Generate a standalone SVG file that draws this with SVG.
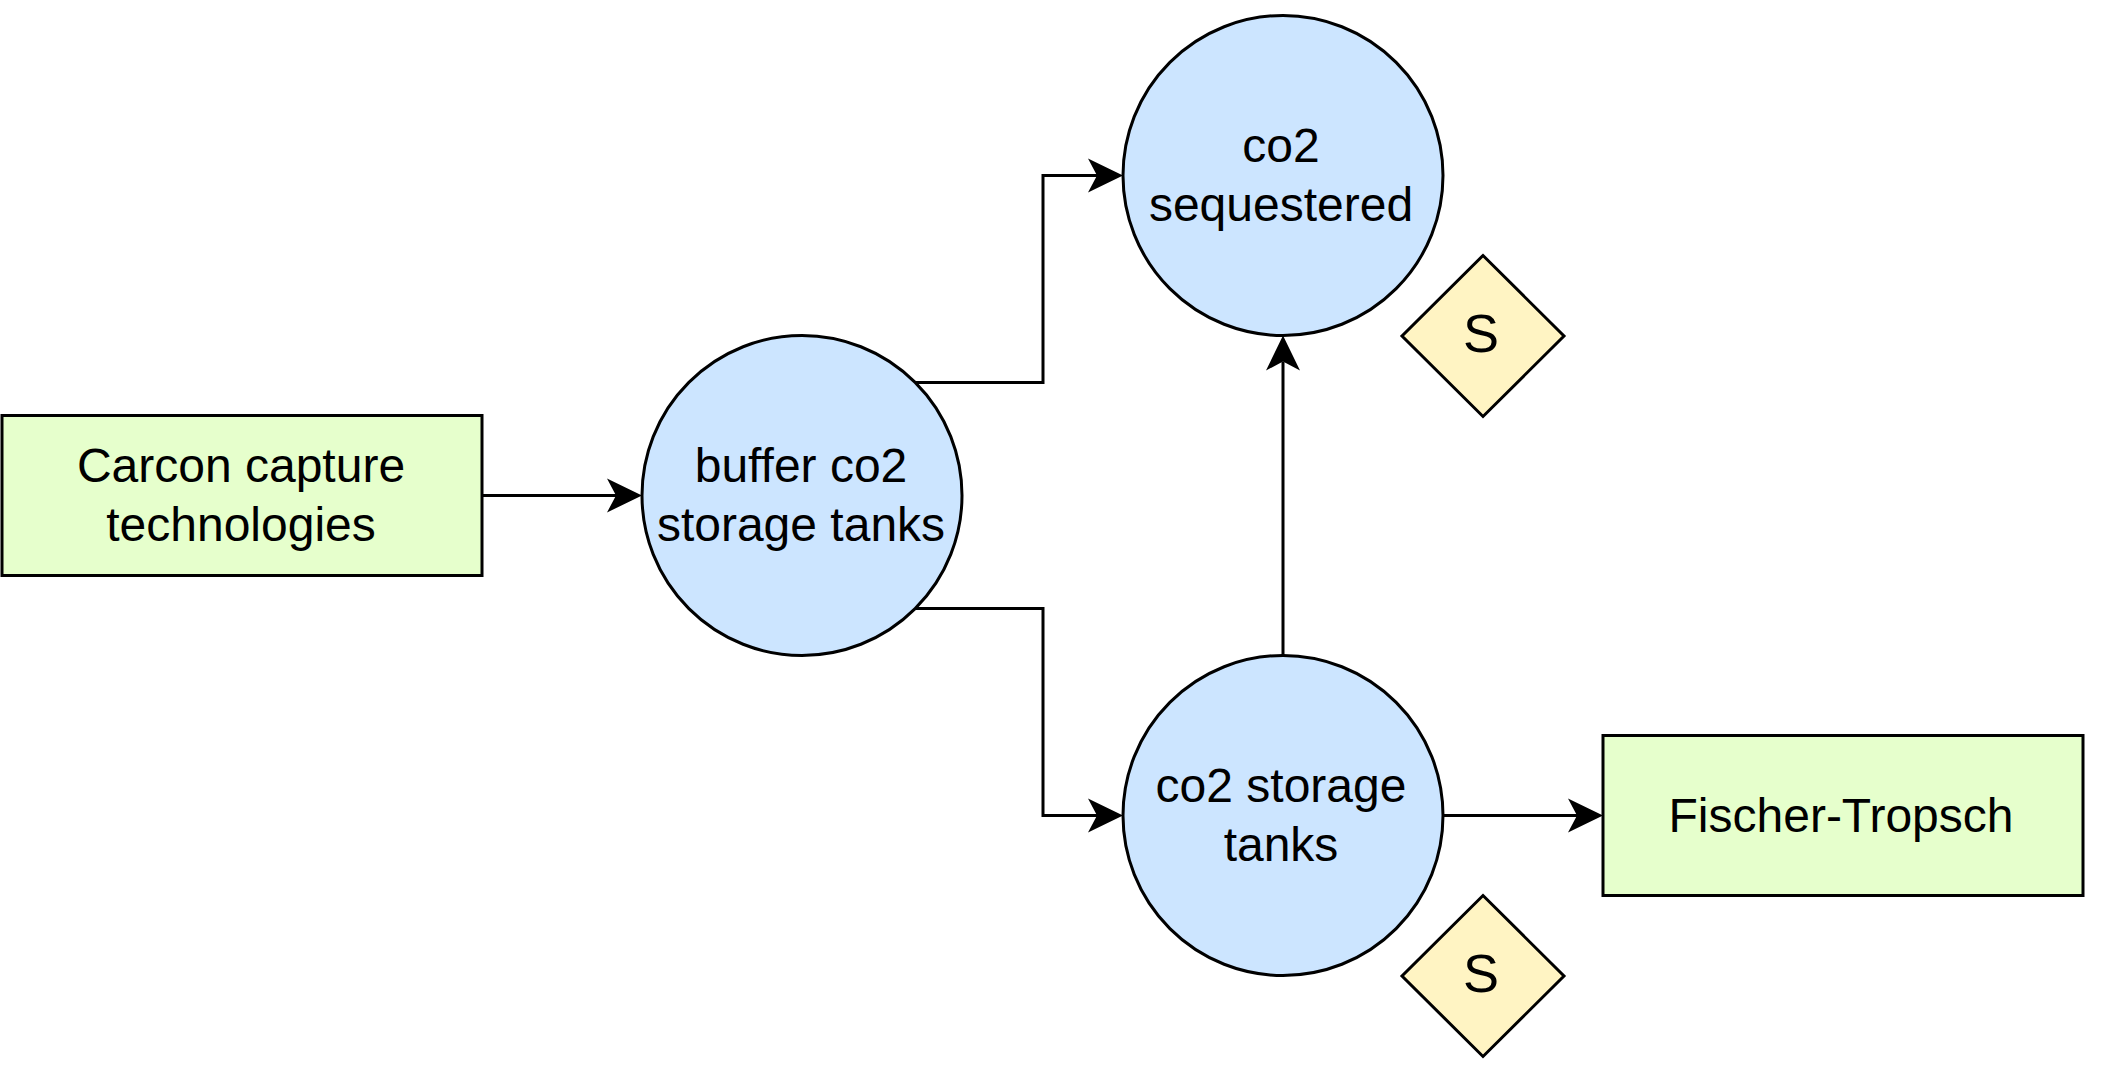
<svg xmlns="http://www.w3.org/2000/svg" width="2111" height="1083" viewBox="0 0 2111 1083">
<style>
.box{fill:#E6FFCC;stroke:#000;stroke-width:3}
.circ{fill:#CCE5FF;stroke:#000;stroke-width:3}
.dia{fill:#FFF4C3;stroke:#000;stroke-width:3}
.lbl{font-family:"Liberation Sans",Arial,sans-serif;font-size:48px;fill:#000;text-anchor:middle}
.big{font-size:54px}
.edge{fill:none;stroke:#000;stroke-width:3}
</style>
<defs>
<marker id="arr" markerUnits="userSpaceOnUse" markerWidth="40" markerHeight="40" viewBox="-10 -20 40 40" refX="0" refY="0" orient="auto" overflow="visible">
<path d="M26,0 L-9,-17 L0,0 L-9,17 Z" fill="#000" stroke="none"/>
</marker>
</defs>
<rect width="2111" height="1083" fill="#fff"/>
<g id="connectors">
<path class="edge" d="M482,495.5 L616,495.5" marker-end="url(#arr)"/>
<path class="edge" d="M915,382.4 L1043,382.4 L1043,175.5 L1097,175.5" marker-end="url(#arr)"/>
<path class="edge" d="M915,608.6 L1043,608.6 L1043,815.5 L1097,815.5" marker-end="url(#arr)"/>
<path class="edge" d="M1283,655.5 L1283,361.5" marker-end="url(#arr)"/>
<path class="edge" d="M1443,815.5 L1577,815.5" marker-end="url(#arr)"/>
</g>
<g id="carcon">
<rect class="box" x="2" y="415.5" width="480" height="160"/>
<text class="lbl" x="241" y="482">Carcon capture</text>
<text class="lbl" x="241" y="540.5">technologies</text>
</g>
<g id="buffer">
<circle class="circ" cx="802" cy="495.5" r="160"/>
<text class="lbl" x="801" y="482">buffer co2</text>
<text class="lbl" x="801" y="540.5">storage tanks</text>
</g>
<g id="sequestered">
<circle class="circ" cx="1283" cy="175.5" r="160"/>
<text class="lbl" x="1281" y="162">co2</text>
<text class="lbl" x="1281" y="220.5">sequestered</text>
</g>
<g id="storage">
<circle class="circ" cx="1283" cy="815.5" r="160"/>
<text class="lbl" x="1281" y="802">co2 storage</text>
<text class="lbl" x="1281" y="860.5">tanks</text>
</g>
<g id="fischer">
<rect class="box" x="1603" y="735.5" width="480" height="160"/>
<text class="lbl" x="1841" y="832">Fischer-Tropsch</text>
</g>
<g id="s1">
<path class="dia" d="M1483,255.5 L1564,336 L1483,416.5 L1402,336 Z"/>
<text class="lbl big" x="1481" y="352">S</text>
</g>
<g id="s2">
<path class="dia" d="M1483,895.5 L1564,976 L1483,1056.5 L1402,976 Z"/>
<text class="lbl big" x="1481" y="992">S</text>
</g>
</svg>
